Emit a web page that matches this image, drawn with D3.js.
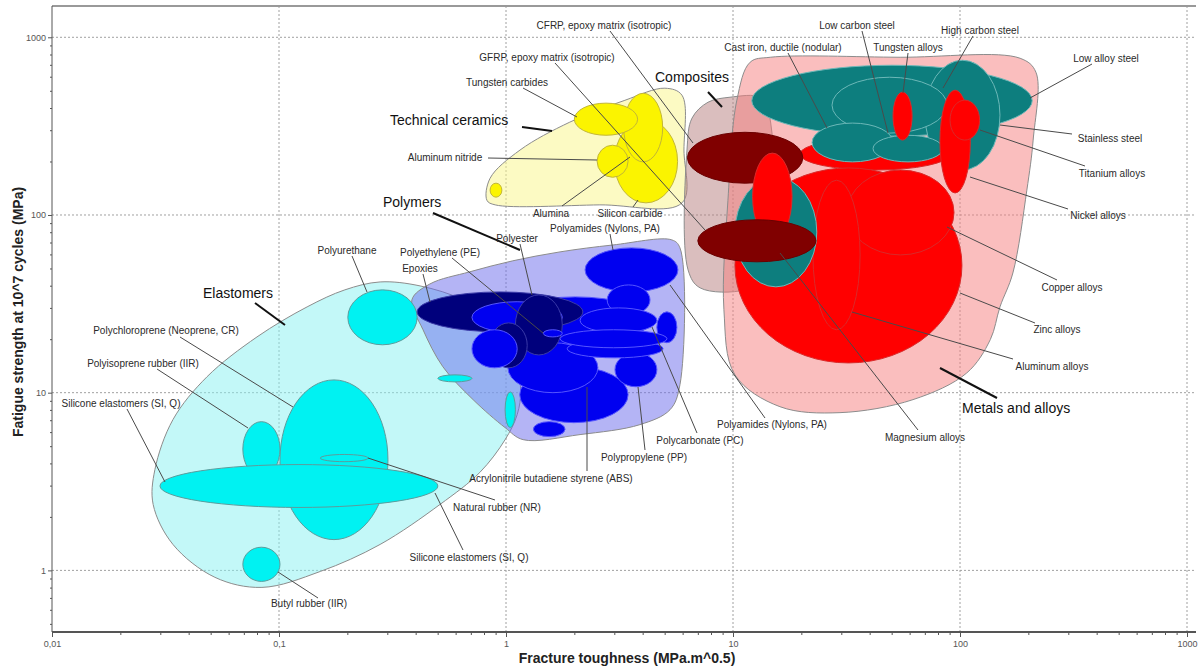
<!DOCTYPE html>
<html><head><meta charset="utf-8">
<script src="https://cdn.jsdelivr.net/npm/d3@7"></script>
<style>
body{margin:0;background:#fff}
svg{display:block;font-family:"Liberation Sans",Arial,sans-serif}
</style>
</head><body>
<svg id="c" width="1201" height="668"></svg>
<script>
// ---------- axis ticks ----------
const xTicks = [0.01, 0.1, 1, 10, 100, 1000];
const xTickLabels = ["0,01", "0,1", "1", "10", "100", "1000"];
const yTicks = [1, 10, 100, 1000];
const yTickLabels = ["1", "10", "100", "1000"];

// ---------- family envelopes: [fracture toughness, fatigue strength] ----------
const elastomerHull = [[0.0279,2.35],[0.0284,3.69],[0.0341,7.05],[0.0482,12.3],[0.080,20.6],[0.133,30.4],[0.195,37.9],[0.279,42.0],[0.418,39.9],[0.647,33.3],[0.867,25.7],[1.07,16.8],[1.16,10.4],[1.12,7.52],[0.991,5.44],[0.767,3.56],[0.512,2.35],[0.279,1.40],[0.152,0.986],[0.0841,0.802],[0.0522,0.914],[0.0341,1.40]];
const polymerHull = [[0.385,33.3],[0.462,40.9],[0.693,47.9],[1.07,55.2],[1.73,62.0],[2.96,67.8],[5.38,72.4],[5.84,65.3],[5.84,11.1],[5.28,8.02],[3.89,6.61],[2.12,5.81],[1.19,5.44],[0.991,6.36],[0.716,9.14],[0.527,14.0],[0.431,22.6]];
const ceramicHull = [[0.824,121],[0.851,161],[1.153,232],[1.91,333],[3.34,442],[5.01,517],[5.96,472],[6.08,232],[5.96,117],[2.59,114],[0.896,114]];
const compositeHull = [[6.27,232],[6.6,351],[7.76,431],[9.7,460],[13.2,460],[14.3,389],[14.3,46],[11.3,37.9],[7.16,38.9],[6.34,49.1]];
const metalHull = [[11.9,724],[14.6,772],[54.5,772],[184,762],[216,636],[210,264],[197,138],[171,47.2],[150,30.4],[136,19.9],[107,12.9],[62.1,9.14],[29.6,7.72],[16.1,8.34],[10.2,12.6],[9.12,29.3],[9.5,121],[10.4,443]];
const hullList = [elastomerHull, polymerHull, ceramicHull, compositeHull, metalHull];
const hullGroup = ["elastomer", "polymer", "ceramic", "composite", "metal"];

// ---------- material bubbles (drawing order) ----------
const matNames = [
 "Polyurethane","Polychloroprene (Neoprene, CR)","Polyisoprene rubber (IIR)","Butyl rubber (IIR)","Elastomer (other 1)","Elastomer (other 2)","Silicone elastomers (SI, Q)","Natural rubber (NR)",
 "Polymer (other 1)","Epoxies","Polyethylene (PE)","Acrylonitrile butadiene styrene (ABS)","Polymer (other 2)","Polyamides (Nylons, PA)","Polymer (other 3)","Polymer (other 4)","Polymer (other 5)","Polypropylene (PP)","Polyester","Polymer (other 6)","Polymer (other 7)","Polycarbonate (PC)","Polymer (other 8)","Polymer (other 9)","Polymer (other 10)",
 "Silicon carbide","Alumina","Tungsten carbides","Aluminum nitride","Ceramic (other)",
 "Low alloy steel","Stainless steel","High carbon steel","Metal (other 1)","Cast iron, ductile (nodular)","Low carbon steel","Tungsten alloys","Nickel alloys","Titanium alloys","Zinc alloys","Copper alloys","Aluminum alloys","Magnesium alloys","CFRP, epoxy matrix (isotropic)","Metal (other 2)","GFRP, epoxy matrix (isotropic)"
];
const matKind = [
 "cyan","cyan","cyan","cyan","cyan","cyan","cyan","cyan",
 "blue","navy","blue","blue","blue","blue","blue","blue","blue","blue","navy","navy","blue","blue","blue","blue","blue",
 "yellow","yellow","yellow","yellow","yellow",
 "teal","teal","teal","red","teal","teal","red","red","red","red","red","red","teal","maroon","red","maroon"
];
const kLow  = [0.201,0.101,0.0693,0.0693,0.501,0.991,0.0299,0.152,
 0.946,0.406,0.708,1.15,1.02,2.23,2.79,2.12,4.62,3.02,1.10,0.851,0.708,1.86,1.73,1.46,1.32,
 3.0,3.3,2.0,2.52,0.851,
 12.1,70.1,27.3,19.7,22.3,41.4,50.7,81.6,90.4,10.2,31.8,22.5,10.2,6.3,12.2,7.0];
const kHigh = [0.406,0.302,0.101,0.101,0.708,1.10,0.501,0.247,
 4.31,2.18,1.77,3.45,2.54,5.72,4.31,4.62,5.66,4.62,1.77,1.24,1.12,4.92,5.12,1.77,1.82,
 5.7,4.9,3.8,3.45,0.959,
 208,150,87.7,90.4,50.7,84.1,61.5,111,122,102,94.1,36.3,23.4,20.3,18.2,23.2];
const sLow  = [18.6,1.49,3.37,0.867,11.5,6.36,2.26,4.09,
 18.6,22.0,21.7,6.78,10.0,36.9,27.4,21.7,19.1,10.8,16.3,13.8,13.8,15.7,17.9,20.6,5.66,
 117,199,281,163,126,
 278,179,289,179,199,199,264,133,264,14.7,59.6,22.6,39.4,151,72.4,54.5];
const sHigh = [37.9,11.8,6.87,1.35,12.6,10.1,3.94,4.49,
 34.6,36.9,32.5,14.0,19.1,65.3,40.4,30.0,28.5,16.8,35.5,24.7,22.6,19.9,22.6,22.6,6.87,
 342,484,426,247,151,
 696,743,596,271,329,281,491,504,443,184,179,157,163,292,223,94];

// ---------- styles ----------
const hullStyle = {
  elastomer:{fill:"#87f1f1"}, polymer:{fill:"#6969eb"}, ceramic:{fill:"#f9f587"},
  composite:{fill:"#b57d7d"}, metal:{fill:"#f57d7d"}
};
const kindStyle = {
  cyan:{fill:"#00f2f2",stroke:"#5c9c9c"},
  blue:{fill:"#0000f0",stroke:"#5555ff"},
  navy:{fill:"#00007c",stroke:"#3a3aa8"},
  yellow:{fill:"#fbf400",stroke:"#c2b636"},
  teal:{fill:"#0d7e7e",stroke:"#6cb8b8"},
  red:{fill:"#ff0000",stroke:"#d92a2a"},
  maroon:{fill:"#800000",stroke:"#6a0000"}
};

// ---------- annotations (layout, pixels) ----------
const annText = ["CFRP, epoxy matrix (isotropic)","GFRP, epoxy matrix (isotropic)","Tungsten carbides","Technical ceramics","Aluminum nitride","Alumina","Silicon carbide","Composites",
 "Polymers","Polyamides (Nylons, PA)","Polyester","Polyethylene (PE)","Epoxies","Polyamides (Nylons, PA)","Polycarbonate (PC)","Polypropylene (PP)","Acrylonitrile butadiene styrene (ABS)",
 "Elastomers","Polyurethane","Polychloroprene (Neoprene, CR)","Polyisoprene rubber (IIR)","Silicone elastomers (SI, Q)","Natural rubber (NR)","Silicone elastomers (SI, Q)","Butyl rubber (IIR)",
 "Cast iron, ductile (nodular)","Low carbon steel","Tungsten alloys","High carbon steel","Low alloy steel","Stainless steel","Titanium alloys","Nickel alloys","Copper alloys","Zinc alloys","Aluminum alloys","Metals and alloys","Magnesium alloys"];
const annPos = [[604,25],[547,57],[507,82],[390,120],[445,157],[551,213],[630,213],[655,77],
 [383,202],[605,228],[517,238],[440,252],[420,268],[772,424],[700,440],[644,457],[551,478],
 [203,293],[347,250],[166,330],[143,363],[121,403],[497,507],[469,557],[309,603],
 [783,47],[857,25],[908,47],[980,30],[1106,58],[1110,138],[1112,173],[1098,215],[1072,287],[1057,329],[1052,366],[962,408],[925,437]];
const annLeader = [[610,31,693,143],[555,63,705,230],[523,88,577,117],[522,127,552,131],[488,158,597,160],[562,206,630,157],[633,207,638,200],[708,92,722,107],
 [433,213,520,250],[610,234,613,250],[520,244,532,295],[452,258,543,333],[423,274,430,302],[765,418,670,285],[697,433,652,327],[645,450,638,387],[587,471,587,387],
 [255,303,285,325],[352,256,367,292],[180,337,293,407],[157,369,248,428],[127,409,165,482],[495,500,368,458],[463,550,435,493],[318,598,278,572],
 [788,53,827,128],[862,31,888,133],[908,53,903,93],[973,36,943,88],[1092,64,1030,98],[1072,134,1000,125],[1085,166,980,130],[1068,209,970,177],[1057,280,947,227],[1035,323,960,293],[1013,359,852,312],[997,398,940,368],[918,430,780,253]];
const annFamily = [3,7,8,17,36];

// ---------- drawing ----------
const svg = d3.select("#c");
const L = 52, R = 1196, T = 6, B = 632;
const x = d3.scaleLog().domain([0.01, 1000]).range([52, 1187]);
const y = d3.scaleLog().domain([0.45, 1500]).range([B, T]);

// grid
const grid = svg.append("g").attr("stroke", "#a0a0a0").attr("stroke-dasharray", "2,2").attr("stroke-width", 1);
grid.selectAll("line.v").data(xTicks.slice(1)).join("line").attr("class","v")
  .attr("x1", d => x(d)).attr("x2", d => x(d)).attr("y1", T).attr("y2", B);
grid.selectAll("line.h").data(yTicks).join("line").attr("class","h")
  .attr("x1", L).attr("x2", R).attr("y1", d => y(d)).attr("y2", d => y(d));

// envelopes
const hullLine = d3.line().x(d => x(d[0])).y(d => y(d[1])).curve(d3.curveCatmullRomClosed.alpha(0.5));
svg.append("g").selectAll("path").data(hullList).join("path")
  .attr("d", d => hullLine(d))
  .attr("fill", (d, i) => hullStyle[hullGroup[i]].fill)
  .attr("fill-opacity", 0.5)
  .attr("stroke", "#8c8c8c").attr("stroke-width", 1);

// bubbles
svg.append("g").selectAll("ellipse").data(d3.range(matNames.length)).join("ellipse")
  .attr("cx", i => (x(kLow[i]) + x(kHigh[i])) / 2)
  .attr("cy", i => (y(sLow[i]) + y(sHigh[i])) / 2)
  .attr("rx", i => (x(kHigh[i]) - x(kLow[i])) / 2)
  .attr("ry", i => (y(sLow[i]) - y(sHigh[i])) / 2)
  .attr("fill", i => kindStyle[matKind[i]].fill)
  .attr("stroke", i => kindStyle[matKind[i]].stroke)
  .attr("stroke-width", 1)
  .append("title").text(i => matNames[i]);

// axes
const minor = [];
for (let e = -2; e <= 2; e++) for (let m = 2; m <= 9; m++) minor.push(m * Math.pow(10, e));
const minorY = minor.filter(v => v >= 0.45 && v <= 1500);

const xAxis = svg.append("g").attr("transform", `translate(0,${B})`)
  .call(d3.axisBottom(x).tickValues(xTicks).tickFormat((d, i) => xTickLabels[i]).tickSize(5).tickPadding(4));
const xMinor = svg.append("g").attr("transform", `translate(0,${B})`)
  .call(d3.axisBottom(x).tickValues(minor).tickFormat("").tickSize(3));
const yAxis = svg.append("g").attr("transform", `translate(${L},0)`)
  .call(d3.axisLeft(y).tickValues(yTicks).tickFormat((d, i) => yTickLabels[i]).tickSize(4).tickPadding(2));
const yMinor = svg.append("g").attr("transform", `translate(${L},0)`)
  .call(d3.axisLeft(y).tickValues(minorY).tickFormat("").tickSize(2));
[xAxis, xMinor, yAxis, yMinor].forEach(g => {
  g.select(".domain").remove();
  g.selectAll(".tick line").attr("stroke", "#555");
  g.selectAll(".tick text").attr("fill", "#555").style("font-size", "9px").style("font-family", '"Liberation Sans",Arial,sans-serif');
});
svg.append("line").attr("x1", L).attr("x2", R).attr("y1", B).attr("y2", B).attr("stroke", "#555").attr("stroke-width", 2);
svg.append("line").attr("x1", L).attr("x2", R).attr("y1", T).attr("y2", T).attr("stroke", "#999").attr("stroke-width", 2);
svg.append("line").attr("x1", L).attr("x2", L).attr("y1", T).attr("y2", B).attr("stroke", "#555").attr("stroke-width", 1);

// leaders + labels
const ann = svg.append("g");
ann.selectAll("line").data(d3.range(annText.length)).join("line")
  .attr("x1", i => annLeader[i][0]).attr("y1", i => annLeader[i][1])
  .attr("x2", i => annLeader[i][2]).attr("y2", i => annLeader[i][3])
  .attr("stroke", i => annFamily.includes(i) ? "#111" : "#4a4a4a")
  .attr("stroke-width", i => annFamily.includes(i) ? 2 : 1);
ann.selectAll("text").data(d3.range(annText.length)).join("text")
  .attr("x", i => annPos[i][0]).attr("y", i => annPos[i][1])
  .attr("dy", "0.35em")
  .attr("text-anchor", i => annFamily.includes(i) ? "start" : "middle")
  .style("font-size", i => annFamily.includes(i) ? "14px" : "10px")
  .attr("fill", i => annFamily.includes(i) ? "#111" : "#2a2a2a")
  .text(i => annText[i]);

// axis titles
svg.append("text").attr("x", 627).attr("y", 663).attr("text-anchor", "middle")
  .style("font-size", "14px").style("font-weight", "bold").attr("fill", "#222")
  .text("Fracture toughness (MPa.m^0.5)");
svg.append("text").attr("transform", "translate(23,312) rotate(-90)").attr("text-anchor", "middle")
  .style("font-size", "14px").style("font-weight", "bold").attr("fill", "#222")
  .text("Fatigue strength at 10^7 cycles (MPa)");
</script>
</body></html>
